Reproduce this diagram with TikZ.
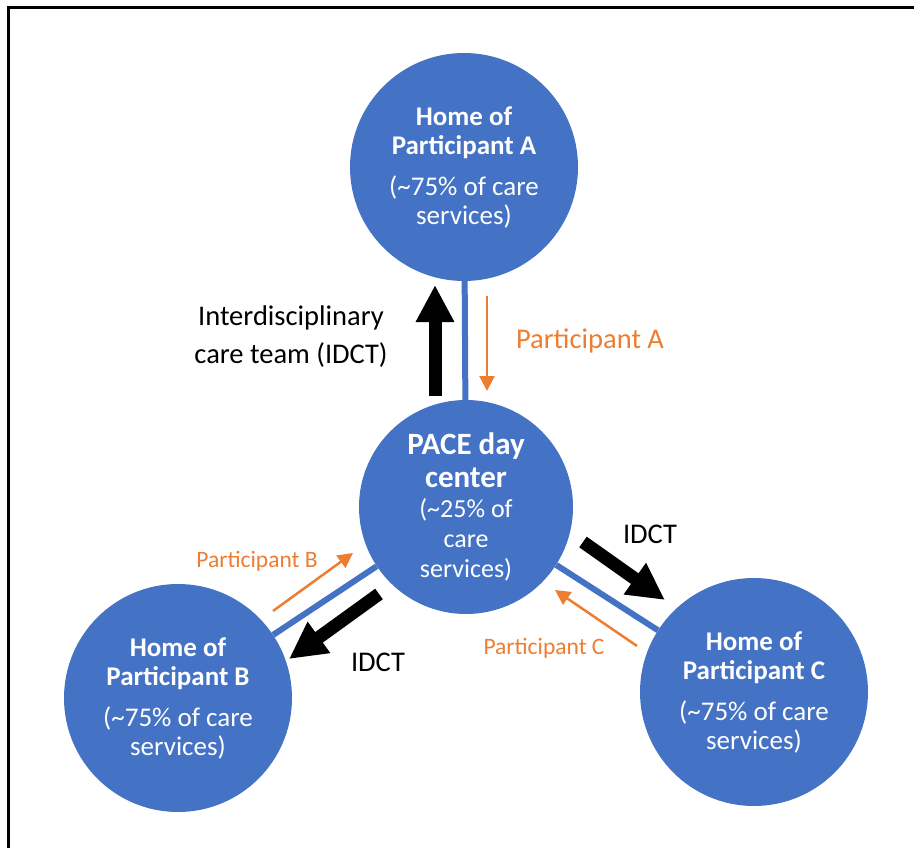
\documentclass[tikz,border=0pt]{standalone}
\usepackage{fontspec}
\setmainfont{Carlito}
\usetikzlibrary{arrows.meta}
\definecolor{pblue}{HTML}{4472C4}
\definecolor{porange}{HTML}{ED7D31}
\begin{document}
\begin{tikzpicture}[x=1pt,y=-1pt,
  circ/.style={circle,fill=pblue,draw=none,minimum size=228pt,inner sep=0pt,text=white,align=center,font=\fontsize{27}{29}\selectfont},
  link/.style={draw=pblue,line width=6pt},
  bigarrow/.style={line width=13pt,-{Triangle[width=36pt,length=37pt]}},
  smallarrow/.style={draw=porange,line width=2.5pt,-{Triangle[width=15pt,length=15pt]}},
  olabel/.style={text=porange,font=\fontsize{23.5}{28}\selectfont,inner sep=0pt},
  klabel/.style={text=black,font=\fontsize{28.5}{38}\selectfont,inner sep=0pt,align=center}]
\useasboundingbox (0,0) rectangle (914,848);
\draw[line width=3pt] (8.5,860) -- (8.5,8) -- (930,8);

\node[circ] (A) at (464,167) {\textbf{Home of}\\\textbf{Participant A}\\[12pt](\textasciitilde75\% of care\\services)};
\node[circ,minimum size=214pt,font=\fontsize{26}{30}\selectfont] (P) at (466,507) {{\fontsize{31}{33}\selectfont\bfseries PACE day}\\[3pt]{\fontsize{31}{33}\selectfont\bfseries center}\\(\textasciitilde25\% of\\care\\services)};
\node[circ] (B) at (178,698) {\textbf{Home of}\\\textbf{Participant B}\\[12pt](\textasciitilde75\% of care\\services)};
\node[circ] (C) at (754,692) {\textbf{Home of}\\\textbf{Participant C}\\[12pt](\textasciitilde75\% of care\\services)};

\draw[link] (P) -- (A);
\draw[link] (P) -- (B);
\draw[link] (P) -- (C);

\coordinate (ka0) at (435,396); \coordinate (ka1) at (435,285);
\coordinate (kb0) at (379,594); \coordinate (kb1) at (289,659);
\coordinate (kc0) at (583,542); \coordinate (kc1) at (665,600);
\draw[bigarrow] (ka0) -- (ka1);
\draw[bigarrow] (kb0) -- (kb1);
\draw[bigarrow] (kc0) -- (kc1);

\coordinate (oa0) at (487,296); \coordinate (oa1) at (487,391);
\coordinate (ob0) at (273,611); \coordinate (ob1) at (353,553);
\coordinate (oc0) at (637,646); \coordinate (oc1) at (555,590);
\draw[smallarrow] (oa0) -- (oa1);
\draw[smallarrow] (ob0) -- (ob1);
\draw[smallarrow] (oc0) -- (oc1);

\node[klabel] (idct) at (291,337) {Interdisciplinary\\care team (IDCT)};
\node[klabel] (idctb) at (378,662) {IDCT};
\node[klabel] (idctc) at (650,534) {IDCT};
\node[olabel,font=\fontsize{28.5}{34}\selectfont] (pa) at (590,341) {Participant A};
\node[olabel] (pb) at (257,561) {Participant B};
\node[olabel] (pc) at (544,648) {Participant C};
\end{tikzpicture}
\end{document}
